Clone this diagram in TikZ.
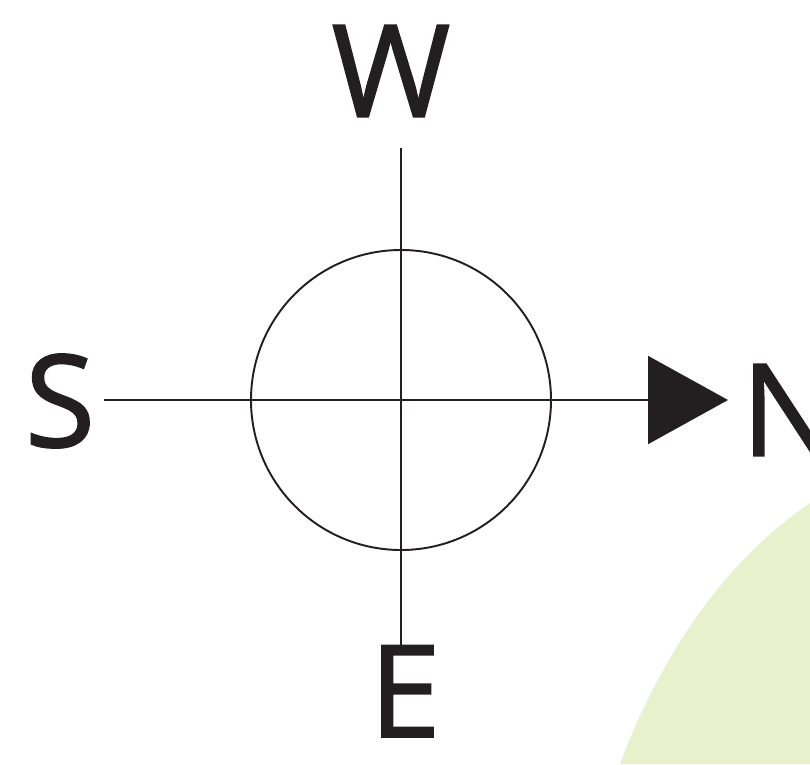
\documentclass[tikz,border=0pt]{standalone}
\usepackage{fontspec}
\setmainfont{Open Sans}[FakeBold=1.3]
\usetikzlibrary{arrows.meta}
\definecolor{ink}{RGB}{35,31,32}
\definecolor{leaf}{RGB}{233,241,204}

\begin{document}
\begin{tikzpicture}[x=0.02cm, y=-0.02cm,
	dir/.style={font=\fontsize{73}{73}\selectfont, text=ink, inner sep=0pt},
	axis/.style={draw=ink, line width=1.1pt}]
	\useasboundingbox (0,0) rectangle (810,764);
	% green field in the corner
	\fill[leaf] (810,503) .. controls (718,566) and (657,665) .. (620,764) -- (810,764) -- cycle;
	% letters
	\node[dir] (W) at (391,71) {W};
	\node[dir] (S) at (60,401) {S};
	\node[dir, anchor=north] (E) at (405,645) {E};
	\node[dir, anchor=west] (N) at (741,410) {N};
	% axes
	\coordinate (top) at (401,148);
	\coordinate (left) at (104,400);
	\coordinate (tip) at (728,400);
	\draw[axis] (top) -- (E.north -| top);
	\draw[axis, -{Triangle[length=1.6cm, width=1.76cm]}] (left) -- (tip);
	\draw[axis] (401,400) circle[radius=150];
\end{tikzpicture}
\end{document}
